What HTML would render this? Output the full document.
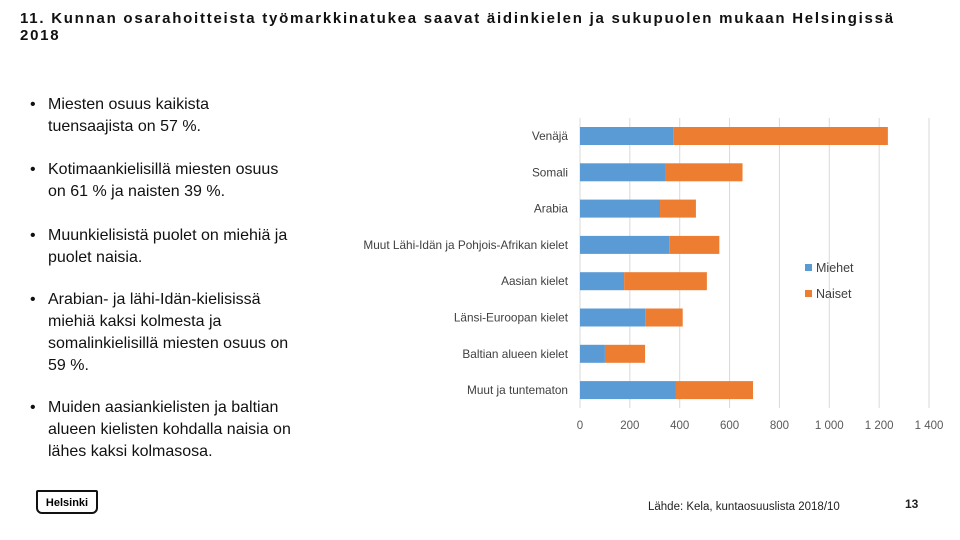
<!DOCTYPE html>
<html><head><meta charset="utf-8"><style>
body{margin:0;width:960px;height:540px;background:#fff;position:relative;overflow:hidden;font-family:"Liberation Sans",sans-serif;}
#title{position:absolute;left:20px;top:10px;font-size:15px;font-weight:bold;letter-spacing:1.75px;line-height:17px;color:#111;white-space:nowrap;}
.b{position:absolute;left:30px;font-size:16px;line-height:22px;color:#111;width:300px;}
.b span.dot{position:absolute;left:0;}
.b div{margin-left:18px;}
</style></head><body>
<div id="title">11. Kunnan osarahoitteista työmarkkinatukea saavat äidinkielen ja sukupuolen mukaan Helsingissä<br>2018</div>
<div class="b" style="top:94px"><span class="dot">•</span><div>Miesten osuus kaikista<br>tuensaajista on 57 %.</div></div>
<div class="b" style="top:159px"><span class="dot">•</span><div>Kotimaankielisillä miesten osuus<br>on 61 % ja naisten 39 %.</div></div>
<div class="b" style="top:225px"><span class="dot">•</span><div>Muunkielisistä puolet on miehiä ja<br>puolet naisia.</div></div>
<div class="b" style="top:289px"><span class="dot">•</span><div>Arabian- ja lähi-Idän-kielisissä<br>miehiä kaksi kolmesta ja<br>somalinkielisillä miesten osuus on<br>59 %.</div></div>
<div class="b" style="top:397px"><span class="dot">•</span><div>Muiden aasiankielisten ja baltian<br>alueen kielisten kohdalla naisia on<br>lähes kaksi kolmasosa.</div></div>
<svg id="chart" width="960" height="540" style="position:absolute;left:0;top:0"></svg>
<div style="position:absolute;left:36px;top:490px;width:62px;height:24px;border:2px solid #111;border-radius:2px 2px 6px 6px;font-size:11px;font-weight:bold;text-align:center;line-height:22px;box-sizing:border-box;">Helsinki</div>
<div style="position:absolute;left:648px;top:501px;font-size:11.5px;color:#222">Lähde: Kela, kuntaosuuslista 2018/10</div>
<div style="position:absolute;left:905px;top:497px;font-size:12px;font-weight:bold;color:#222">13</div>
<script>
const categories=["Venäjä","Somali","Arabia","Muut Lähi-Idän ja Pohjois-Afrikan kielet","Aasian kielet","Länsi-Euroopan kielet","Baltian alueen kielet","Muut ja tuntematon"];
const miehet=[376,341,321,358,177,262,100,385];
const naiset=[859,311,144,201,332,150,161,309];
const ticks=[0,200,400,600,800,1000,1200,1400];
const tickLabels=["0","200","400","600","800","1 000","1 200","1 400"];
const ns="http://www.w3.org/2000/svg";
const svg=document.getElementById('chart');
const x0=580,x1=929,yTop=118,yBot=408,y0=136,step=36.3,bh=18;
const xs=v=>x0+(v/1400)*(x1-x0);
const ys=i=>y0+i*step;
function mk(t,a,p){const e=document.createElementNS(ns,t);for(const k in a)e.setAttribute(k,a[k]);(p||svg).appendChild(e);return e;}
ticks.forEach((t,i)=>{
 const l=mk('line',{x1:xs(t),x2:xs(t),y1:yTop,y2:yBot,stroke:'#d9d9d9','stroke-width':1});
 
 
 const tx=mk('text',{x:xs(t),y:429,'text-anchor':'middle','font-size':11.5,fill:'#595959','font-family':'Liberation Sans, sans-serif'});
 tx.textContent=tickLabels[i];
 
 
});
categories.forEach((c,i)=>{
 const y=ys(i);
 const t=mk('text',{x:568,y:y+4,'text-anchor':'end','font-size':11.8,fill:'#404040','font-family':'Liberation Sans, sans-serif'});
 t.textContent=c;
 
 
 const r1=mk('rect',{x:xs(0),y:y-bh/2,width:xs(miehet[i])-xs(0),height:bh,fill:'#5b9bd5'});
 
 
 const r2=mk('rect',{x:xs(miehet[i]),y:y-bh/2,width:xs(miehet[i]+naiset[i])-xs(miehet[i]),height:bh,fill:'#ed7d31'});
 
 
});
[["Miehet","#5b9bd5",268],["Naiset","#ed7d31",294]].forEach(([n,c,y])=>{
 const g=mk('g',{});
 
 
 mk('rect',{x:805,y:y-4,width:7,height:7,fill:c},g);
 const t=mk('text',{x:816,y:y+4,'font-size':12.5,fill:'#404040','font-family':'Liberation Sans, sans-serif'},g);
 t.textContent=n;
});
</script>
</body></html>
